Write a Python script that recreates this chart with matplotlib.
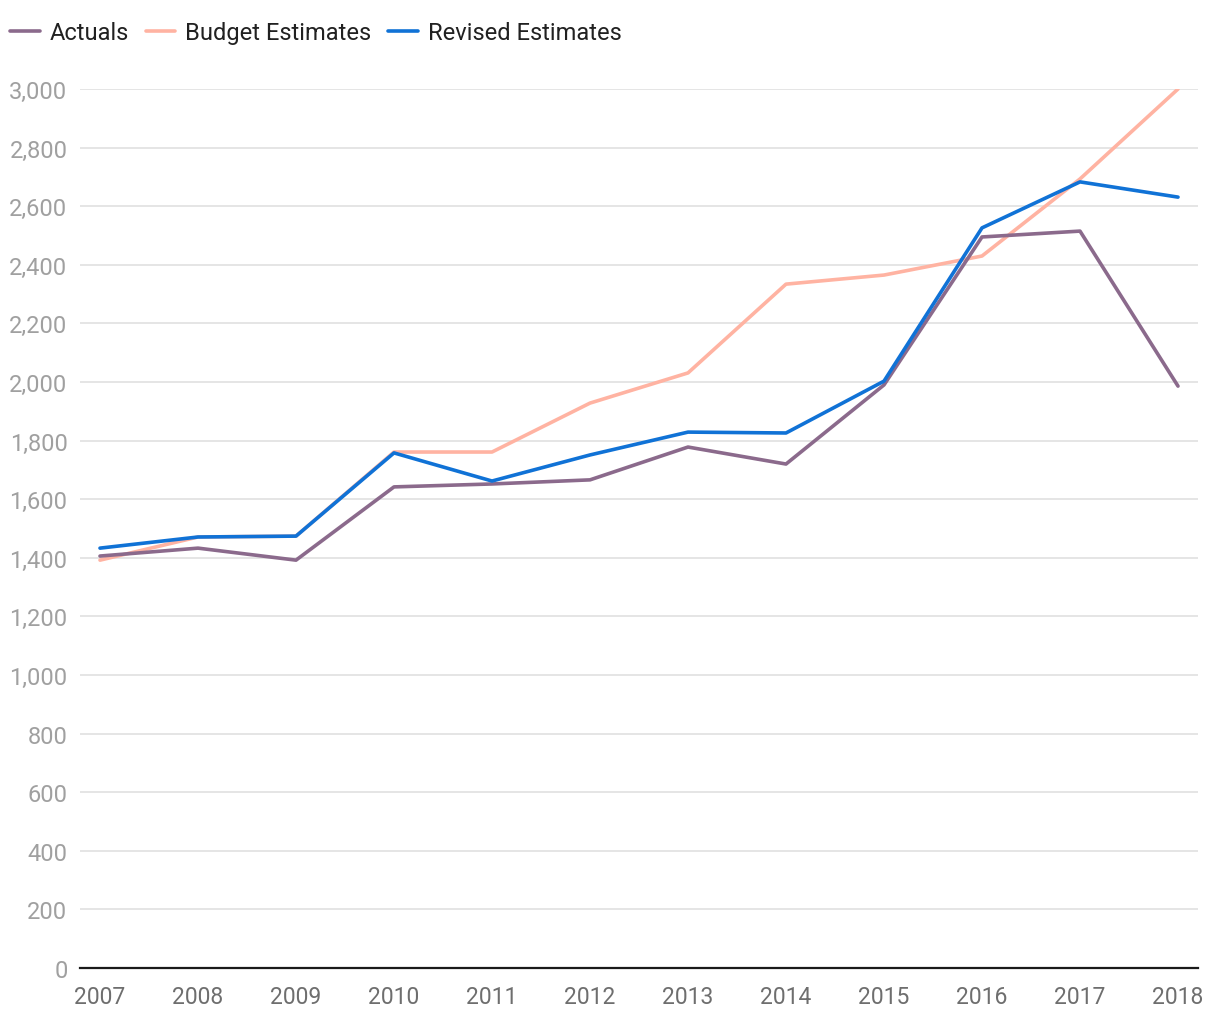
import matplotlib
matplotlib.use("Agg")
import matplotlib.pyplot as plt
from matplotlib.ticker import FuncFormatter, MultipleLocator

years = [2007, 2008, 2009, 2010, 2011, 2012, 2013, 2014, 2015, 2016, 2017, 2018]
actuals = [1406, 1433, 1392, 1642, 1652, 1666, 1778, 1720, 1990, 2495, 2515, 1986]
budget = [1392, 1471, 1474, 1761, 1761, 1928, 2031, 2334, 2365, 2430, 2693, 3000]
revised = [1433, 1471, 1474, 1758, 1662, 1751, 1829, 1826, 2003, 2526, 2683, 2631]
series_names = ["Actuals", "Budget Estimates", "Revised Estimates"]
colors = ["#8b6a8c", "#ffb3a2", "#1072d6"]

plt.rcParams['font.family'] = ['Roboto', 'DejaVu Sans']

fig = plt.figure(figsize=(12.2, 10.2), dpi=100)
ax = fig.add_axes([80/1220, 51/1020, 1118/1220, (969-90)/1020])

ax.plot(years, actuals, color=colors[0], lw=2.6, label=series_names[0], zorder=3, solid_capstyle='round')
ax.plot(years, budget, color=colors[1], lw=2.6, label=series_names[1], zorder=2, solid_capstyle='round')
ax.plot(years, revised, color=colors[2], lw=2.6, label=series_names[2], zorder=4, solid_capstyle='round')

ax.set_xlim(2006.796, 2018.204)
ax.set_ylim(0, 3000)
ax.yaxis.set_major_locator(MultipleLocator(200))
ax.yaxis.set_major_formatter(FuncFormatter(lambda v, p: f"{int(v):,}"))
ax.set_xticks(years)
ax.set_xticklabels([str(y) for y in years])

ax.grid(axis='y', color='#e3e3e3', lw=1.3, zorder=0)
ax.set_axisbelow(True)
for s in ['top', 'right', 'left']:
    ax.spines[s].set_visible(False)
ax.spines['bottom'].set_color('#1a1a1a')
ax.spines['bottom'].set_linewidth(1.6)
ax.spines['bottom'].set_zorder(5)

ax.tick_params(axis='y', length=0, pad=9, labelsize=17, labelcolor='#a0a0a0')
ax.tick_params(axis='x', length=0, pad=12, labelsize=16.5, labelcolor='#6e6e6e')

fig.legend(loc='upper left', bbox_to_anchor=(10/1220, 1 - 22/1020), ncol=3, frameon=False,
           borderpad=0, borderaxespad=0,
           fontsize=17, handlelength=1.25, handletextpad=0.42, columnspacing=0.72,
           labelcolor='#212121')

fig.savefig("out.png", dpi=100, facecolor='white')
